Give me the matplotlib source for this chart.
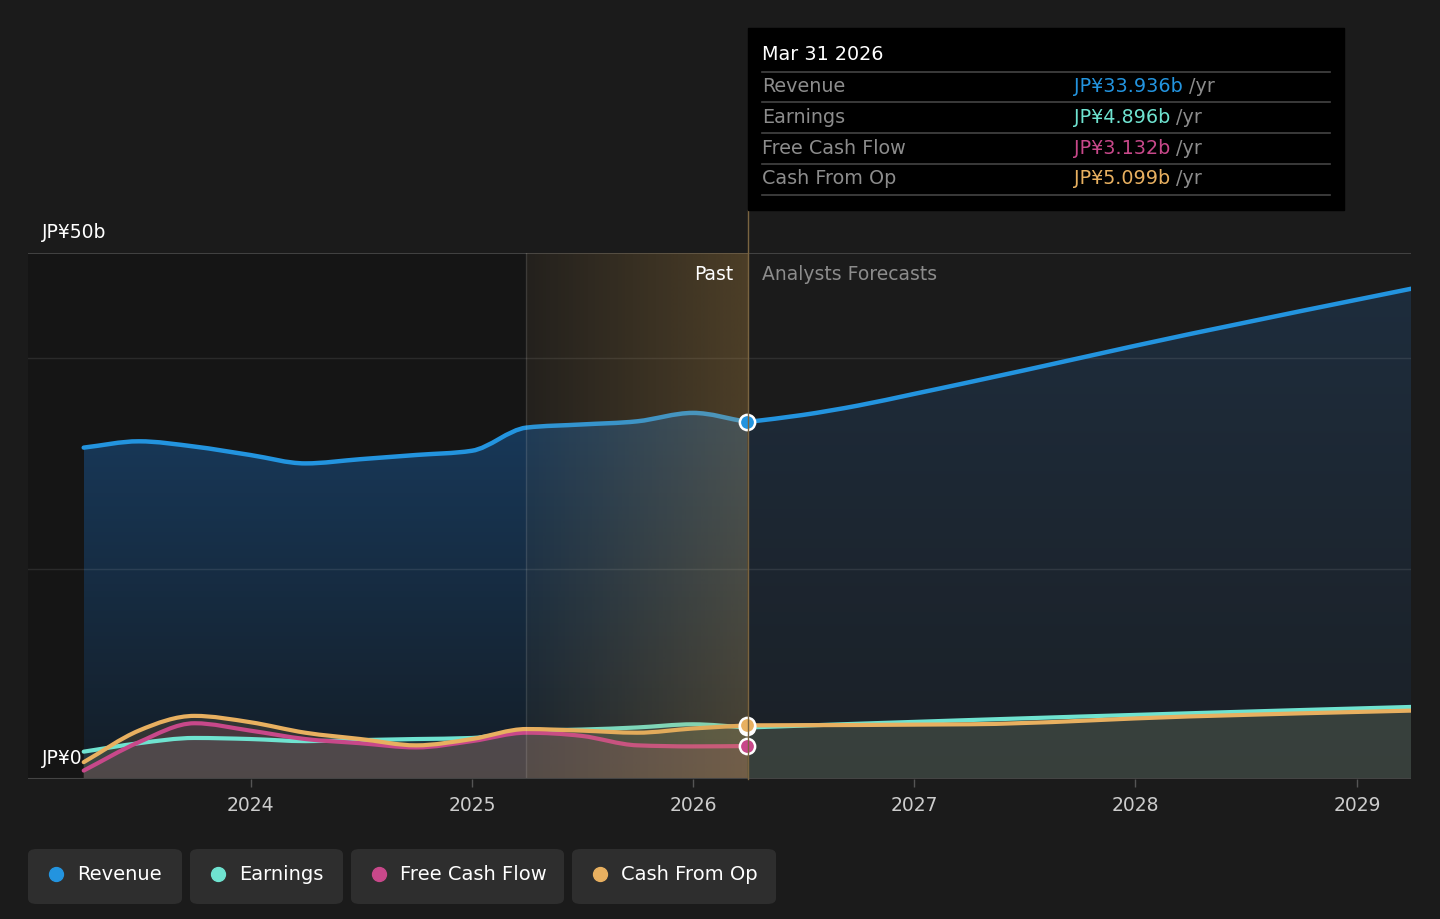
import numpy as np
import pandas as pd
import matplotlib
matplotlib.use("Agg")
import matplotlib.pyplot as plt
import matplotlib.dates as mdates
from matplotlib.patches import FancyBboxPatch, Rectangle, PathPatch
from matplotlib.path import Path
from matplotlib.colors import to_rgb

# ---- data (JP¥ billions, trailing twelve months) ----
past_dates = ["2023-03-31", "2023-06-30", "2023-09-30", "2023-12-31",
              "2024-03-31", "2024-06-30", "2024-09-30", "2024-12-31",
              "2025-03-31", "2025-06-30", "2025-09-30", "2025-12-31",
              "2026-03-31"]
revenue_past = [31.5, 32.1, 31.6, 30.8, 30.0, 30.4, 30.8, 31.2,
                33.4, 33.7, 34.0, 34.8, 33.936]
earnings_past = [2.6, 3.4, 3.9, 3.8, 3.6, 3.7, 3.8, 3.9,
                 4.6, 4.7, 4.9, 5.2, 4.896]
fcf_past = [0.8, 3.5, 5.3, 4.6, 3.8, 3.4, 3.0, 3.6,
            4.4, 4.1, 3.2, 3.1, 3.132]
cfo_past = [1.6, 4.6, 6.0, 5.4, 4.4, 3.8, 3.2, 3.8,
            4.75, 4.6, 4.4, 4.8, 5.099]

rev_fc_dates = ["2026-03-31", "2026-06-30", "2026-09-30", "2026-12-31",
                "2027-03-31", "2028-03-31", "2029-03-31"]
revenue_fc = [33.936, 34.6, 35.5, 36.6, 37.7, 42.3, 46.6]
fc_dates = ["2026-03-31", "2027-03-31", "2028-03-31", "2029-03-31"]
earnings_fc = [4.896, 5.6, 6.25, 6.85]
cfo_fc = [5.099, 5.2, 5.95, 6.5]

year_ticks = [2024, 2025, 2026, 2027, 2028, 2029]
legend_names = ["Revenue", "Earnings", "Free Cash Flow", "Cash From Op"]
tip_values = ["JP¥33.936b", "JP¥4.896b", "JP¥3.132b", "JP¥5.099b"]

C_REV = "#2394df"
C_EARN = "#6fe3d0"
C_FCF = "#c8488a"
C_CFO = "#e8b060"
colors = [C_REV, C_EARN, C_FCF, C_CFO]
BG = "#1b1b1b"

pd_ = mdates.date2num(pd.to_datetime(past_dates))
rfd = mdates.date2num(pd.to_datetime(rev_fc_dates))
fd = mdates.date2num(pd.to_datetime(fc_dates))
split = pd_[-1]
band_start = mdates.date2num(pd.Timestamp("2025-03-31"))


def monotone_path(x, y, close=False):
    # bezier path through the points, monotone-x style tangents
    x = np.asarray(x, float)
    y = np.asarray(y, float)
    h = np.diff(x)
    s = np.diff(y) / h
    m = np.zeros_like(y)
    m[0], m[-1] = s[0], s[-1]
    for i in range(1, len(y) - 1):
        if s[i - 1] * s[i] <= 0:
            m[i] = 0
        else:
            p = (s[i - 1] * h[i] + s[i] * h[i - 1]) / (h[i - 1] + h[i])
            m[i] = np.sign(s[i]) * min(abs(s[i - 1]), abs(s[i]), 0.5 * abs(p)) * 2
    verts = [(x[0], y[0])]
    codes = [Path.MOVETO]
    for i in range(len(x) - 1):
        d = h[i] / 3
        verts += [(x[i] + d, y[i] + m[i] * d), (x[i + 1] - d, y[i + 1] - m[i + 1] * d),
                  (x[i + 1], y[i + 1])]
        codes += [Path.CURVE4] * 3
    if close:
        verts += [(x[-1], 0), (x[0], 0), (x[0], y[0])]
        codes += [Path.LINETO, Path.LINETO, Path.CLOSEPOLY]
    return Path(verts, codes)


W, H = 1440, 919
fig = plt.figure(figsize=(W / 100, H / 100), dpi=100, facecolor=BG)
ax = fig.add_axes([28 / W, (H - 779) / H, (1411 - 28) / W, 526 / H])
ax.set_facecolor(BG)

x0 = mdates.date2num(pd.Timestamp("2022-12-29"))
x1 = mdates.date2num(pd.Timestamp("2029-03-31"))

# darker past background
ax.add_patch(Rectangle((x0, 0), band_start - x0, 50, color="#151515", zorder=0, lw=0))

# grid
for g in [20, 40]:
    ax.axhline(g, color="#ffffff", alpha=0.09, lw=1, zorder=3.5)
ax.axhline(50, color="#4a4a4a", lw=1.2, zorder=1)
ax.axhline(0, color="#444444", lw=1.5, zorder=6)


def gradient_fill(x, y, top, bottom, z):
    patch = PathPatch(monotone_path(x, y, close=True), facecolor="none", lw=0)
    ax.add_patch(patch)
    n = 256
    t = np.linspace(0, 1, n)[:, None]
    a, b = np.array(to_rgb(top)), np.array(to_rgb(bottom))
    img = (b + (a - b) * t)[:, None, :] * np.ones((1, 2, 1))
    im = ax.imshow(img, extent=[x[0], x[-1], 0, max(y) + 1], origin="lower",
                   aspect="auto", zorder=z, interpolation="bilinear")
    im.set_clip_path(patch)


# revenue fills
gradient_fill(pd_, revenue_past, "#183a5c", "#141d26", 2)
gradient_fill(rfd, revenue_fc, "#1e2d3d", "#1b2026", 2)

# smaller series fills
for xs, ys, c, a in [(pd_, earnings_past, C_EARN, 0.12), (pd_, fcf_past, C_FCF, 0.14),
                     (pd_, cfo_past, C_CFO, 0.14), (fd, earnings_fc, C_EARN, 0.10),
                     (fd, cfo_fc, C_CFO, 0.10)]:
    ax.add_patch(PathPatch(monotone_path(xs, ys, close=True), facecolor=c,
                           alpha=a, lw=0, zorder=3))

# lines
for xs, ys, c, lw in [(pd_, earnings_past, C_EARN, 3.0), (fd, earnings_fc, C_EARN, 3.0),
                      (pd_, fcf_past, C_FCF, 3.0), (pd_, cfo_past, C_CFO, 3.0),
                      (fd, cfo_fc, C_CFO, 3.0), (pd_, revenue_past, C_REV, 3.2),
                      (rfd, revenue_fc, C_REV, 3.2)]:
    ax.add_patch(PathPatch(monotone_path(xs, ys), facecolor="none", edgecolor=c,
                           lw=lw, zorder=4, capstyle="round", joinstyle="round"))

# highlighted last year of the past
n = 200
grad = np.zeros((1, n, 4))
grad[..., 0] = 0.80
grad[..., 1] = 0.60
grad[..., 2] = 0.28
grad[..., 3] = 0.05 + np.linspace(0.0, 1.0, n) * 0.23
ax.imshow(grad, extent=[band_start, split, 0, 50], aspect="auto", zorder=5,
          interpolation="bilinear")
ax.axvline(band_start, color="#ffffff", alpha=0.12, lw=1, zorder=5)
ax.set_xlim(x0, x1)
ax.set_ylim(0, 50)

# dots at the split
for v, c in [(revenue_past[-1], C_REV), (earnings_past[-1], C_EARN),
             (fcf_past[-1], C_FCF), (cfo_past[-1], C_CFO)]:
    ax.plot(split, v, "o", ms=11, color=c, mec="white", mew=1.8, zorder=8, clip_on=False)

# axes styling
for s in ax.spines.values():
    s.set_visible(False)
ax.set_yticks([])
ax.set_xticks(mdates.date2num([pd.Timestamp(f"{y}-01-01") for y in year_ticks]))
ax.set_xticklabels([str(y) for y in year_ticks])
ax.tick_params(axis="x", colors="#555555", labelcolor="#cccccc", labelsize=13.5,
               length=6, width=1, pad=6)

# vertical split line reaching up to the tooltip
fig.add_artist(plt.Line2D([748 / W, 748 / W], [(H - 779) / H, (H - 210) / H],
                          color="#7a6440", lw=1, zorder=2))


def fy(py):
    return (H - py) / H


def fx(px):
    return px / W


fig.text(fx(42), fy(232), "JP¥50b", color="white", fontsize=13.5, va="center")
fig.text(fx(42), fy(758), "JP¥0", color="white", fontsize=13.5, va="center")
fig.text(fx(733), fy(274), "Past", color="white", fontsize=13.5, va="center", ha="right")
fig.text(fx(762), fy(274), "Analysts Forecasts", color="#8c8c8c", fontsize=13.5, va="center")

# tooltip
fig.add_artist(Rectangle((fx(748), fy(210)), (1344 - 748) / W, (210 - 28) / H,
                         color="black", transform=fig.transFigure, zorder=3))
fig.text(fx(762), fy(55), "Mar 31 2026", color="white", fontsize=13.8, va="center", zorder=4)
for py in [72, 102, 133, 164, 195]:
    fig.add_artist(plt.Line2D([fx(762), fx(1330)], [fy(py), fy(py)],
                              color="#444444", lw=1.2, zorder=4))
for i, (name, val, c) in enumerate(zip(legend_names, tip_values, colors)):
    py = 87 + i * 30.5
    fig.text(fx(762), fy(py), name, color="#8c8c8c", fontsize=13.8, va="center", zorder=4)
    t = fig.text(fx(1074), fy(py), val, color=c, fontsize=13.8, va="center", zorder=4)
    fig.canvas.draw()
    bb = t.get_window_extent()
    fig.text(bb.x1 / W + 6 / W, fy(py), "/yr", color="#8c8c8c", fontsize=13.8,
             va="center", zorder=4)

# legend chips
chips = [(28, 182), (190, 343), (351, 564), (572, 776)]
for (a, b), name, c in zip(chips, legend_names, colors):
    fig.add_artist(FancyBboxPatch((fx(a), fy(904)), (b - a) / W, 55 / H,
                                  boxstyle="round,pad=0,rounding_size=0.006",
                                  transform=fig.transFigure, color="#2e2e2e", lw=0))
    fig.add_artist(plt.Line2D([fx(a + 28)], [fy(874)], marker="o", ms=10, color=c, lw=0))
    fig.text(fx(a + 49), fy(874), name, color="white", fontsize=14, va="center")

fig.savefig("out.png", dpi=100, facecolor=BG)
